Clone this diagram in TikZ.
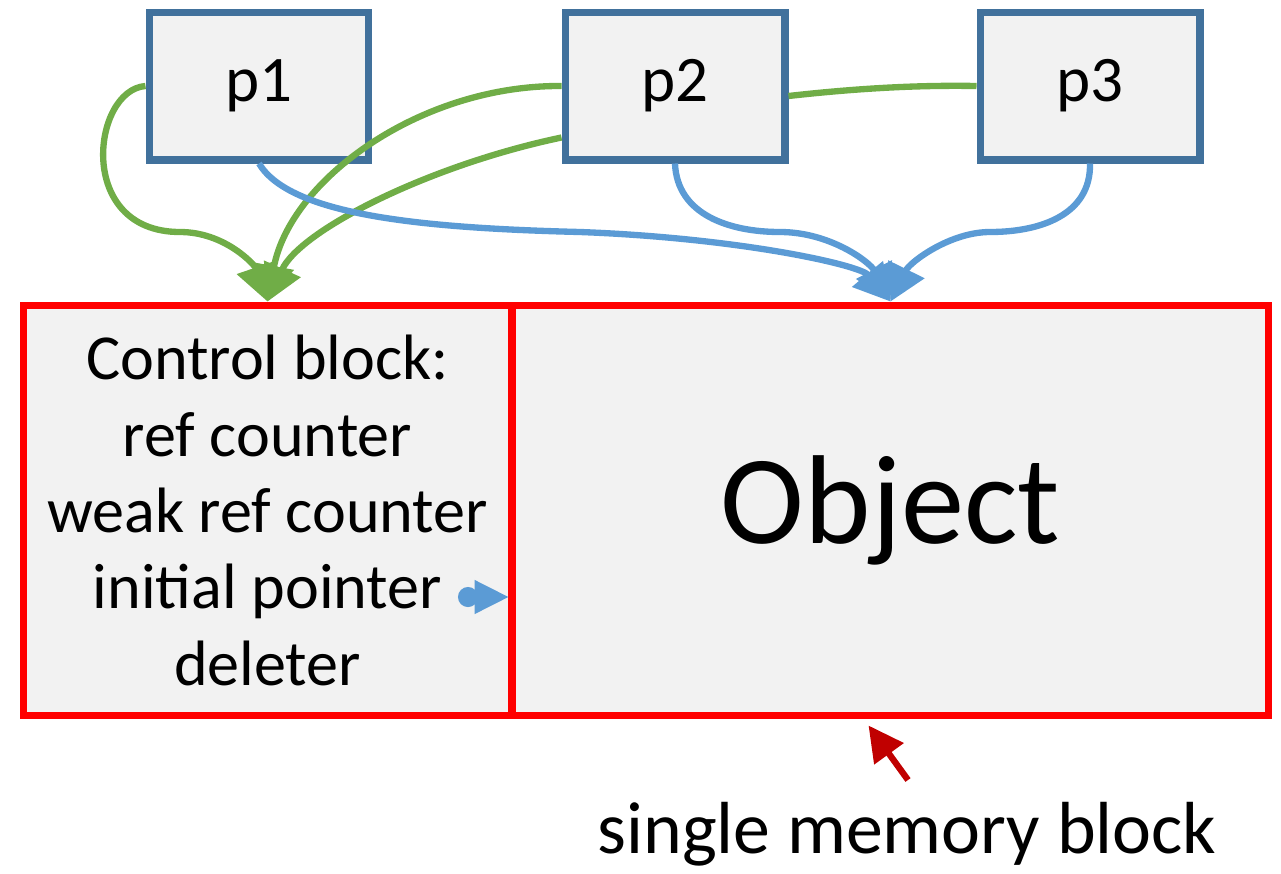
\documentclass[tikz,border=0pt]{standalone}
\usepackage{fontspec}
\setmainfont{Carlito}
\usetikzlibrary{arrows.meta,calc}

\definecolor{pblue}{HTML}{41719C}
\definecolor{bblue}{HTML}{5B9BD5}
\definecolor{ggreen}{HTML}{70AD47}
\definecolor{boxgray}{HTML}{F2F2F2}
\definecolor{darkred}{HTML}{C00000}

\tikzset{
    pbox/.style={draw=pblue, fill=boxgray, line width=4pt,
        minimum width=4.4cm, minimum height=2.96cm,
        font=\fontsize{37}{44}\selectfont},
    memblock/.style={draw=red, fill=boxgray, line width=4pt,
        minimum height=8.22cm, inner sep=0pt},
    gref/.style={ggreen, line width=3.6pt,
        -{Triangle[length=0.72cm,width=0.78cm]}},
    bref/.style={bblue, line width=3.6pt,
        -{Triangle[length=0.72cm,width=0.78cm]}}
}

\begin{document}
\begin{tikzpicture}[x=0.02cm, y=-0.02cm]

            \useasboundingbox (0,0) rectangle (1281,873);

            % pointers
            \node[pbox] (p1) at (259,86) {p1};
            \node[pbox] (p2) at (675,86) {p2};
            \node[pbox] (p3) at (1090,86) {p3};

            % the one allocation
            \node[memblock, minimum width=9.78cm, align=center,
                font=\fontsize{36.5}{43.5}\selectfont] (ctrl) at (267.5,510.5)
                {Control block:\\ref counter\\weak ref counter\\initial pointer\\deleter};
            \node[memblock, minimum width=15.14cm,
                font=\fontsize{72}{84}\selectfont] (obj) at (890.5,510.5) {Object};

            \node[font=\fontsize{42}{50}\selectfont] (label) at (907,834) {single memory block};

            % weak references
            \draw[gref] (p1.west) .. controls (92,90) and (75,232) .. (180,232)
                .. controls (225,232) and (255,265) .. (ctrl.north);
            \draw[gref] (p2.west) .. controls (420,85) and (290,180) .. (ctrl.north);
            \draw[gref] ([yshift=0.52cm]p2.south west) .. controls (430,165) and (300,230) .. (ctrl.north);
            \draw[ggreen, line width=3.6pt] ([yshift=-0.2cm]p2.east) .. controls (860,88) and (920,85) .. (p3.west);

            % strong references
            \draw[bref] (p1.south) .. controls (290,215) and (420,228) .. (580,232)
                .. controls (740,238) and (860,265) .. (obj.north);
            \draw[bref] (p2.south) .. controls (677,215) and (730,232) .. (780,232)
                .. controls (830,232) and (870,262) .. (obj.north);
            \draw[bref] (p3.south) .. controls (1091,215) and (1040,232) .. (990,232)
                .. controls (950,232) and (910,262) .. (obj.north);

            \coordinate (ptr) at (458,597);
            \draw[bblue, line width=2.6pt, {Circle[length=0.4cm]}-{Triangle[length=0.68cm,width=0.66cm]}]
                (ptr) -- (ptr -| obj.west);

            \coordinate (memtail) at (908,780);
            \draw[darkred, line width=3.6pt, -{Triangle[length=0.7cm,width=0.7cm]}]
                (memtail) -- ($(obj.south)+(-22,6)$);

\end{tikzpicture}
\end{document}
